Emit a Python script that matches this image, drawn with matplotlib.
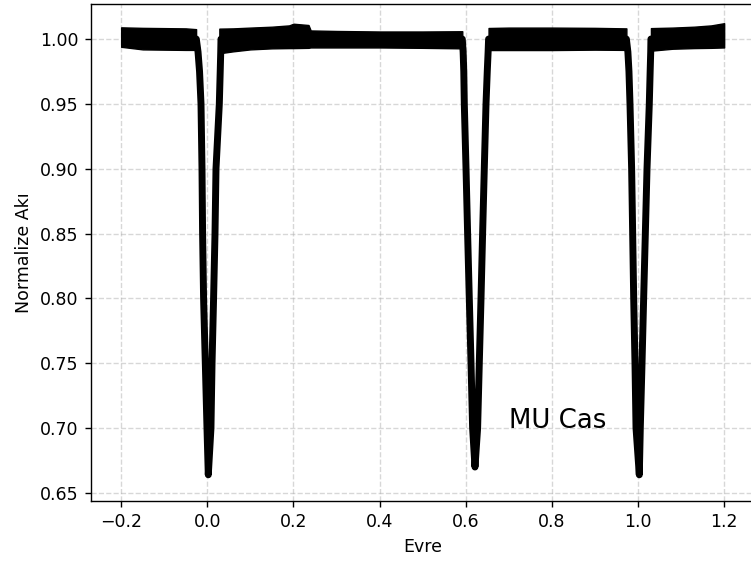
import matplotlib
matplotlib.use("Agg")
import matplotlib.pyplot as plt

# ---- out-of-eclipse band (upper / lower visible edges) ----
seg1_phase = [-0.200, -0.150, -0.100, -0.050, -0.026]
seg1_upper = [1.0090, 1.0086, 1.0084, 1.0082, 1.0076]
seg1_lower = [0.9940, 0.9920, 0.9918, 0.9916, 0.9916]

seg2_phase = [0.028, 0.060, 0.100, 0.150, 0.190, 0.200, 0.235, 0.240, 0.300, 0.400, 0.500, 0.592]
seg2_upper = [1.0080, 1.0082, 1.0088, 1.0095, 1.0105, 1.0118, 1.0108, 1.0066, 1.0062, 1.0058, 1.0058, 1.0060]
seg2_lower = [0.9890, 0.9905, 0.9920, 0.9928, 0.9930, 0.9930, 0.9932, 0.9935, 0.9935, 0.9935, 0.9932, 0.9928]

seg3_phase = [0.653, 0.700, 0.800, 0.900, 0.973]
seg3_upper = [1.0085, 1.0088, 1.0088, 1.0086, 1.0082]
seg3_lower = [0.9915, 0.9915, 0.9915, 0.9918, 0.9916]

seg4_phase = [1.030, 1.080, 1.130, 1.170, 1.200]
seg4_upper = [1.0084, 1.0088, 1.0095, 1.0105, 1.0122]
seg4_lower = [0.9910, 0.9925, 0.9930, 0.9932, 0.9935]

# ---- eclipse profiles (centre of the point cloud) ----
prim_phase = [-0.0255, -0.0215, -0.0180, -0.0146, -0.0123, -0.0109, -0.0086, -0.0046, -0.0007, 0.0023,
              0.0085, 0.0110, 0.0146, 0.0179, 0.0202, 0.0279, 0.0300, 0.0312, 0.0318]
prim_flux = [1.000, 0.990, 0.975, 0.950, 0.900, 0.850, 0.800, 0.750, 0.700, 0.664,
             0.700, 0.750, 0.800, 0.850, 0.900, 0.950, 0.975, 0.990, 1.000]

sec_phase = [0.5920, 0.5940, 0.5955, 0.5967, 0.6007, 0.6044, 0.6083, 0.6123, 0.6160, 0.6215,
             0.6276, 0.6315, 0.6355, 0.6392, 0.6431, 0.6471, 0.6500, 0.6520, 0.6531]
sec_flux = [1.000, 0.990, 0.975, 0.950, 0.900, 0.850, 0.800, 0.750, 0.700, 0.670,
            0.700, 0.750, 0.800, 0.850, 0.900, 0.950, 0.975, 0.990, 1.000]

ter_phase = [0.9730, 0.9765, 0.9790, 0.9814, 0.9852, 0.9876, 0.9900, 0.9930, 0.9954, 1.0030,
             1.0053, 1.0093, 1.0131, 1.0170, 1.0209, 1.0262, 1.0282, 1.0295, 1.0300]
ter_flux = [1.000, 0.990, 0.975, 0.950, 0.900, 0.850, 0.800, 0.750, 0.700, 0.664,
            0.700, 0.750, 0.800, 0.850, 0.900, 0.950, 0.975, 0.990, 1.000]

x_ticks = [-0.2, 0.0, 0.2, 0.4, 0.6, 0.8, 1.0, 1.2]
y_ticks = [0.65, 0.70, 0.75, 0.80, 0.85, 0.90, 0.95, 1.00]

fig = plt.figure(figsize=(751 / 125, 563 / 125), dpi=125)
ax = fig.add_axes([91 / 751, 1 - 501 / 563, (755 - 91.7) / 751, (501 - 4) / 563])

for ph, up, lo in [(seg1_phase, seg1_upper, seg1_lower),
                   (seg2_phase, seg2_upper, seg2_lower),
                   (seg3_phase, seg3_upper, seg3_lower),
                   (seg4_phase, seg4_upper, seg4_lower)]:
    ax.fill_between(ph, lo, up, color="black", linewidth=0.8, edgecolor="black",
                    joinstyle="round", capstyle="round", zorder=3)

for ph, fl in [(prim_phase, prim_flux), (sec_phase, sec_flux), (ter_phase, ter_flux)]:
    ax.plot(ph, fl, color="black", linewidth=4.0, solid_capstyle="round",
            solid_joinstyle="round", zorder=3)

ax.text(0.70, 0.70, "MU Cas", fontsize=15, zorder=4)

ax.set_xlim(-0.27, 1.27)
ax.set_ylim(0.6438, 1.027)
ax.set_xticks(x_ticks)
ax.set_yticks(y_ticks)
ax.grid(True, linestyle="--", alpha=0.5)
ax.set_xlabel("Evre")
ax.set_ylabel("Normalize Akı")

fig.savefig("out.png", dpi=125)
